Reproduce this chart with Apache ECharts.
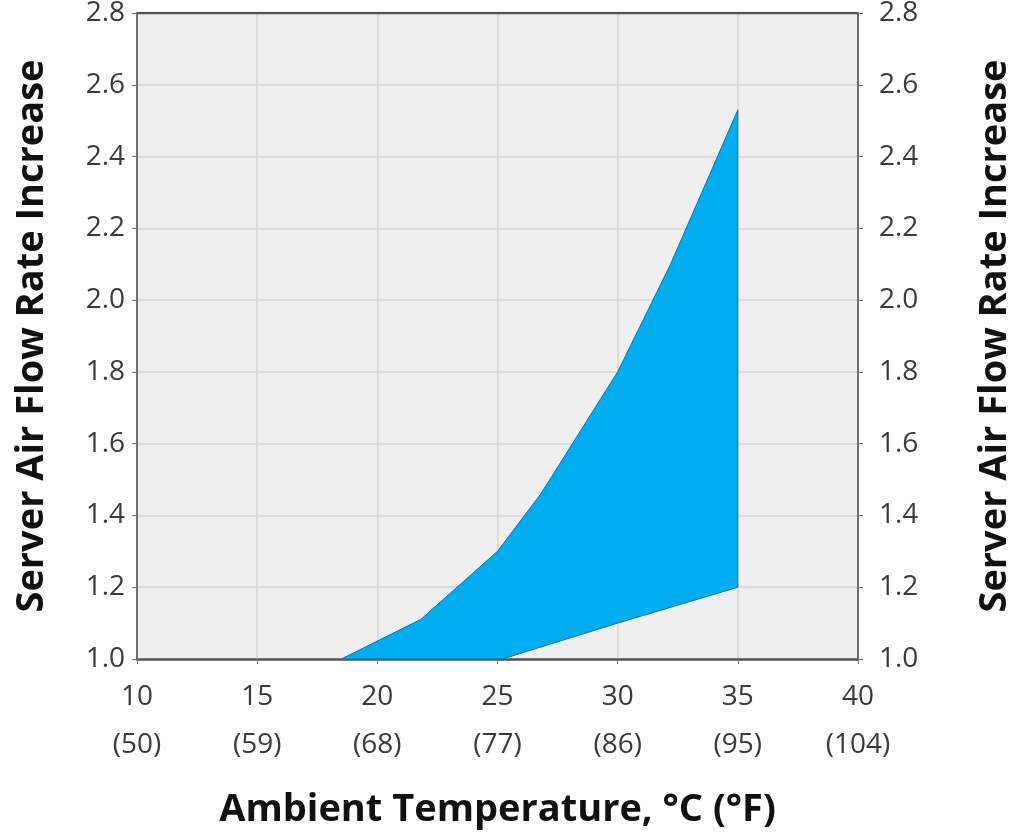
<!DOCTYPE html>
<html>
<head>
<meta charset="utf-8">
<script src="https://cdn.jsdelivr.net/npm/echarts@6/dist/echarts.min.js"></script>
<style>
html,body{margin:0;padding:0;background:#fff;}
#chart{width:1011px;height:834px;}
</style>
</head>
<body>
<div id="chart"></div>
<script>
// Upper boundary of the shaded region (°C, air flow increase factor)
var upperX = [18.5, 21.8, 25.0, 26.8, 30.0, 32.2, 35.0];
var upperY = [1.00, 1.11, 1.30, 1.46, 1.80, 2.10, 2.53];
// Lower boundary of the shaded region
var lowerX = [18.5, 25.2, 30.0, 35.0];
var lowerY = [1.00, 1.00, 1.10, 1.20];
// X tick labels: °C with °F
var tickC = [10, 15, 20, 25, 30, 35, 40];
var tickF = [50, 59, 68, 77, 86, 95, 104];

var xTitle = 'Ambient Temperature, °C (°F)';
var yTitle = 'Server Air Flow Rate Increase';

// Build polygon: upper forward, lower backward
var poly = [];
for (var i = 0; i < upperX.length; i++) poly.push([upperX[i], upperY[i]]);
for (var j = lowerX.length - 1; j >= 0; j--) poly.push([lowerX[j], lowerY[j]]);

var fLabel = {};
tickC.forEach(function (c, k) { fLabel[c] = tickF[k]; });

var FONT = 'Open Sans';
var chart = echarts.init(document.getElementById('chart'), null, {renderer: 'canvas'});

var yAxisBase = {
  type: 'value', min: 1.0, max: 2.8, interval: 0.2,
  axisLine: {show: true, lineStyle: {color: '#707070', width: 2}},
  axisTick: {show: true, length: 5, lineStyle: {color: '#707070', width: 1}},
  splitLine: {show: true, lineStyle: {color: '#d6d6d6', width: 1.5}},
  axisLabel: {fontFamily: FONT, fontSize: 28, color: '#3a3a3a',
    formatter: function (v) { return v.toFixed(1); }},
  nameLocation: 'middle', nameRotate: 90,
  nameTextStyle: {fontFamily: FONT, fontWeight: 'bold', fontSize: 38, color: '#111'}
};

chart.setOption({
  animation: false,
  grid: {left: 137, right: 153, top: 13, bottom: 175, show: true,
    containLabel: false, outerBoundsMode: 'none',
    backgroundColor: '#efefef', borderColor: '#707070', borderWidth: 0},
  xAxis: {
    type: 'value', min: 10, max: 40, interval: 5,
    axisLine: {show: true, onZero: false, lineStyle: {color: '#555', width: 2.5}},
    axisTick: {show: true, length: 5, lineStyle: {color: '#707070'}},
    splitLine: {show: true, lineStyle: {color: '#d6d6d6', width: 1.5}},
    axisLabel: {fontFamily: FONT, fontSize: 28, color: '#3a3a3a', margin: 14, lineHeight: 48,
      formatter: function (v) { return v + '\n(' + fLabel[v] + ')'; }},
    name: xTitle, nameLocation: 'middle', nameGap: 132,
    nameTextStyle: {fontFamily: FONT, fontWeight: 'bold', fontSize: 38, color: '#111'}
  },
  yAxis: [
    Object.assign({}, yAxisBase, {position: 'left', name: yTitle, nameGap: 86,
      axisLabel: Object.assign({}, yAxisBase.axisLabel, {margin: 12})}),
    Object.assign({}, yAxisBase, {position: 'right', name: yTitle, nameGap: 118, nameRotate: 90,
      splitLine: {show: false},
      axisLabel: Object.assign({}, yAxisBase.axisLabel, {margin: 21})})
  ],
  series: [
    {
      type: 'custom',
      coordinateSystem: 'cartesian2d',
      data: [0],
      renderItem: function (params, api) {
        var pts = poly.map(function (p) { return api.coord(p); });
        return {
          type: 'polygon',
          shape: {points: pts},
          style: {fill: '#00adef', stroke: '#1a6fa0', lineWidth: 1}
        };
      },
      z: 3
    },
    {
      // top border line of plot
      type: 'line', data: [[10, 2.8], [40, 2.8]], symbol: 'none', silent: true,
      lineStyle: {color: '#555', width: 2.5}, z: 4
    }
  ]
});
</script>
</body>
</html>
